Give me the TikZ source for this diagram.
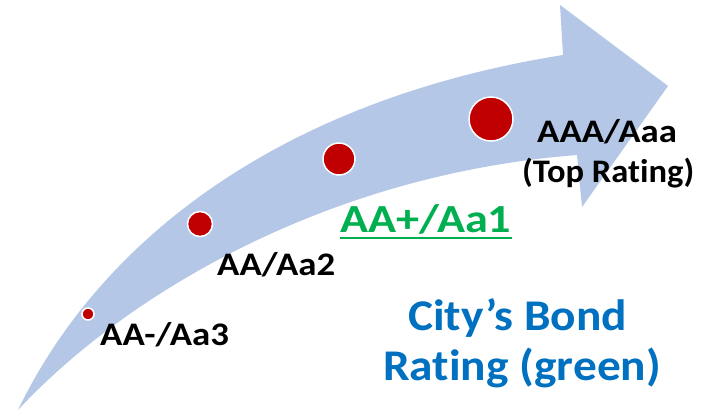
\documentclass[tikz,border=0pt]{standalone}
\usepackage{fontspec}
\setmainfont{Carlito}[Ligatures=CommonOff]
\usepackage{graphicx}
\definecolor{bandblue}{HTML}{B4C7E7}
\definecolor{dotred}{HTML}{C00000}
\definecolor{ratinggreen}{HTML}{00B050}
\definecolor{titleblue}{HTML}{0070C0}
\newcommand{\wide}[2][1.12]{\scalebox{#1}[1]{#2}}
\tikzset{
  dot/.style={circle, fill=dotred, draw=white, line width=1.5bp, inner sep=0pt},
  lbl/.style={anchor=base west, inner sep=0pt, font=\bfseries\fontsize{33}{36}\selectfont, text=black},
  greenlbl/.style={anchor=base west, inner sep=0pt, font=\bfseries\fontsize{40}{44}\selectfont, text=ratinggreen},
  bluelbl/.style={anchor=base west, inner sep=0pt, font=\bfseries\fontsize{44}{48}\selectfont, text=titleblue},
}
\begin{document}
\begin{tikzpicture}[x=1bp,y=-1bp]
\useasboundingbox[fill=white] (0,0) rectangle (704,415);
% curved arrow
\fill[bandblue] (18,410) .. controls (100,240) and (280,100) .. (563,55)
  -- (560,5) -- (668,86) -- (582,207) -- (577,155)
  .. controls (320,175) and (120,300) .. (18,410) -- cycle;
% dots
\node[dot, minimum size=12bp] (d1) at (88,314) {};
\node[dot, minimum size=25bp] (d2) at (200,224) {};
\node[dot, minimum size=32bp] (d3) at (339,159) {};
\node[dot, minimum size=44bp] (d4) at (491,119) {};
% labels
\node[lbl] (l1) at (100,345) {\wide{AA-/Aa3}};
\node[lbl] (l2) at (217,275) {\wide{AA/Aa2}};
\node[greenlbl] (l3) at (340,232) {\wide[1.16]{AA+/Aa1}};
\draw[ratinggreen, line width=2.5bp] ([yshift=-6bp]l3.base west) -- ([yshift=-6bp]l3.base east);
\node[lbl] (l4) at (537,142) {\wide{AAA/Aaa}};
\node[lbl] (l5) at (522,182) {\wide[1.05]{(Top Rating)}};
\node[bluelbl] (t1) at (408,330) {\wide[1.08]{City’s Bond}};
\node[bluelbl] (t2) at (383,380) {\wide[1.08]{Rating (green)}};
\end{tikzpicture}
\end{document}
